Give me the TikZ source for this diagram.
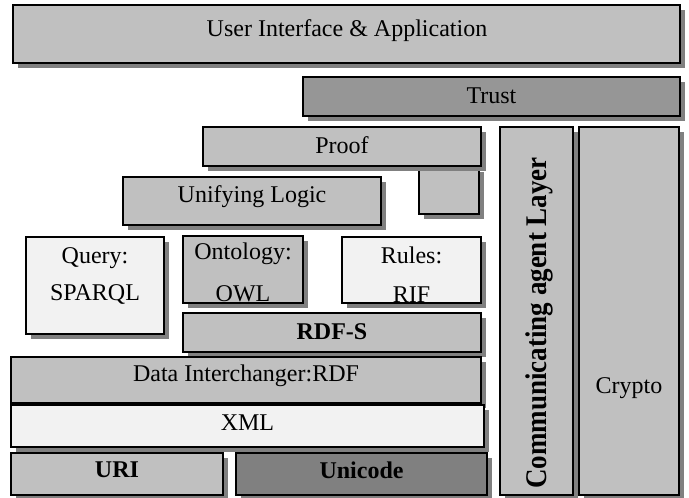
\documentclass[tikz,border=0pt]{standalone}
\usepackage{fontspec}
\setmainfont{Liberation Serif}
\usetikzlibrary{shadows}
\definecolor{midgray}{HTML}{C0C0C0}
\definecolor{trustgray}{HTML}{969696}
\definecolor{darkfill}{HTML}{808080}
\definecolor{lightfill}{HTML}{F2F2F2}
\definecolor{shadowgray}{HTML}{808080}
\tikzset{
  layer/.style={draw=black, line width=1.4pt, inner sep=0pt, outer sep=0pt,
    drop shadow={shadow xshift=5pt, shadow yshift=-5pt, fill=shadowgray, opacity=1}},
  lbl/.style={font=\fontsize{24}{28}\selectfont, inner sep=0pt},
  blbl/.style={font=\fontsize{24}{28}\selectfont\bfseries, inner sep=0pt},
}
\begin{document}
\begin{tikzpicture}[x=1pt, y=-1pt]
\useasboundingbox[fill=white] (0,0) rectangle (689,498);
% boxes
\node[layer, fill=midgray, minimum width=667pt, minimum height=58pt] (ui) at (346.5,34) {};
\node[layer, fill=trustgray, minimum width=377pt, minimum height=39pt] (trust) at (491.5,96.5) {};
\node[layer, fill=midgray, minimum width=60pt, minimum height=47pt] (small) at (449,190.5) {};
\node[layer, fill=midgray, minimum width=278pt, minimum height=39pt] (proof) at (342,146.5) {};
\node[layer, fill=midgray, minimum width=258pt, minimum height=48pt] (logic) at (252,201) {};
\node[layer, fill=midgray, minimum width=73pt, minimum height=368pt] (comm) at (536.5,311) {};
\node[layer, fill=midgray, minimum width=100pt, minimum height=368pt] (crypto) at (629,311) {};
\node[layer, fill=lightfill, minimum width=138pt, minimum height=97pt] (query) at (95,285.5) {};
\node[layer, fill=midgray, minimum width=120pt, minimum height=67pt] (onto) at (243,269.5) {};
\node[layer, fill=lightfill, minimum width=139pt, minimum height=66pt] (rules) at (411.5,270) {};
\node[layer, fill=midgray, minimum width=298pt, minimum height=39pt] (rdfs) at (332,332.5) {};
\node[layer, fill=midgray, minimum width=470pt, minimum height=46pt] (rdf) at (246,380) {};
\node[layer, fill=lightfill, minimum width=473pt, minimum height=42pt] (xml) at (247.5,426) {};
\node[layer, fill=midgray, minimum width=212pt, minimum height=42pt] (uri) at (117,474) {};
\node[layer, fill=darkfill, minimum width=251pt, minimum height=42pt] (unicode) at (361.5,474) {};
% labels
\node[lbl] (tui) at (347,31) {User Interface \& Application};
\node[lbl] (ttrust) at (491.5,96) {Trust};
\node[lbl] (tproof) at (342,145) {Proof};
\node[lbl] (tlogic) at (252,197) {Unifying Logic};
\node[font=\fontsize{30}{34}\selectfont\bfseries, inner sep=0pt, rotate=90, xscale=0.9] (tcomm) at (539,323) {Communicating agent Layer};
\node[lbl] (tcrypto) at (629,388) {Crypto};
\node[lbl] (tq1) at (95,258) {Query:};
\node[lbl] (tq2) at (95,294) {SPARQL};
\node[lbl] (to1) at (243,254) {Ontology:};
\node[lbl] (to2) at (243,294) {OWL};
\node[lbl] (tr1) at (411.5,255) {Rules:};
\node[lbl] (tr2) at (411.5,295) {RIF};
\draw[line width=1.4pt] (rules.south west) -- (rules.south east);
\node[blbl] (trdfs) at (332,331.5) {RDF-S};
\node[lbl] (trdf) at (246,376) {Data Interchanger:RDF};
\node[lbl] (txml) at (247.5,423) {XML};
\node[blbl] (turi) at (117,470) {URI};
\node[blbl] (tunicode) at (361.5,470) {Unicode};
\end{tikzpicture}
\end{document}
